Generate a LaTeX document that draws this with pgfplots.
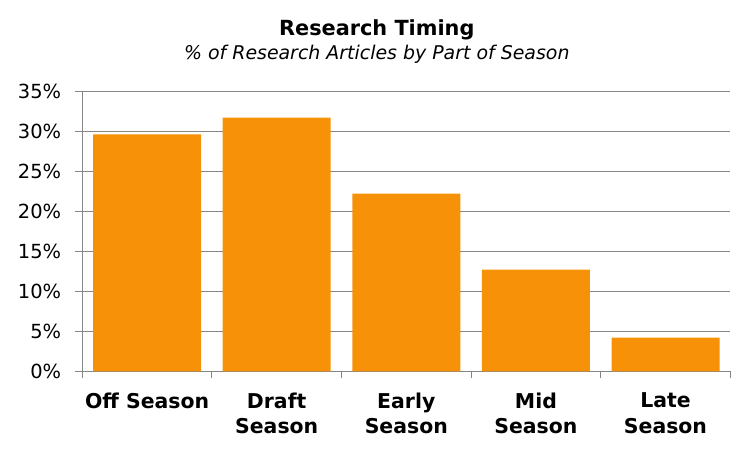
\documentclass[border=0pt]{standalone}
\usepackage{pgfplots}
\pgfplotsset{compat=1.18}
\usepackage{fontspec}
\setmainfont{DejaVu Sans}
\definecolor{barorange}{RGB}{247,146,8}
\definecolor{linegray}{RGB}{134,134,134}
\begin{document}
\begin{tikzpicture}
\useasboundingbox (-82.3bp,-78.7bp) rectangle (670.7bp,371.3bp);
\begin{axis}[
  at={(0,0)}, anchor=south west,
  scale only axis,
  width=648bp, height=280bp,
  xmin=-0.5, xmax=4.5,
  ymin=0, ymax=35,
  ytick={0,5,...,35},
  xtick={0,1,2,3,4},
  xticklabels={Off Season,Draft\\Season,Early\\Season,Mid\\Season,Late\\Season},
  minor xtick={-0.5,0.5,1.5,2.5,3.5,4.5},
  major x tick style={draw=none},
  minor x tick style={linegray, line width=0.9bp},
  y tick style={linegray, line width=0.9bp},
  tick align=outside,
  major tick length=7bp,
  minor tick length=7bp,
  axis x line*=bottom,
  axis y line*=left,
  axis line style={linegray, line width=0.9bp, -},
  ymajorgrids,
  grid style={linegray, line width=0.9bp},
  /pgf/number format/assume math mode=true,
  yticklabel={\pgfmathprintnumber{\tick}\%},
  yticklabel style={font=\fontsize{19.5}{22}\selectfont, anchor=east, inner sep=0pt, xshift=-14bp},
  xticklabel style={font=\fontsize{20.5}{26}\selectfont\bfseries, align=center, anchor=north, inner sep=0pt, yshift=-14bp},
  ybar, bar width=108bp,
]
\addplot[fill=barorange, draw=none] coordinates {
  (0,29.6) (1,31.7) (2,22.2) (3,12.7) (4,4.2)
};
\end{axis}
\node[anchor=base, font=\fontsize{20.9}{24}\selectfont\bfseries] at (294.5bp,335.3bp) {Research Timing};
\node[anchor=base, font=\fontsize{19}{22}\selectfont\itshape] at (294.5bp,312bp) {\% of Research Articles by Part of Season};
\end{tikzpicture}
\end{document}
